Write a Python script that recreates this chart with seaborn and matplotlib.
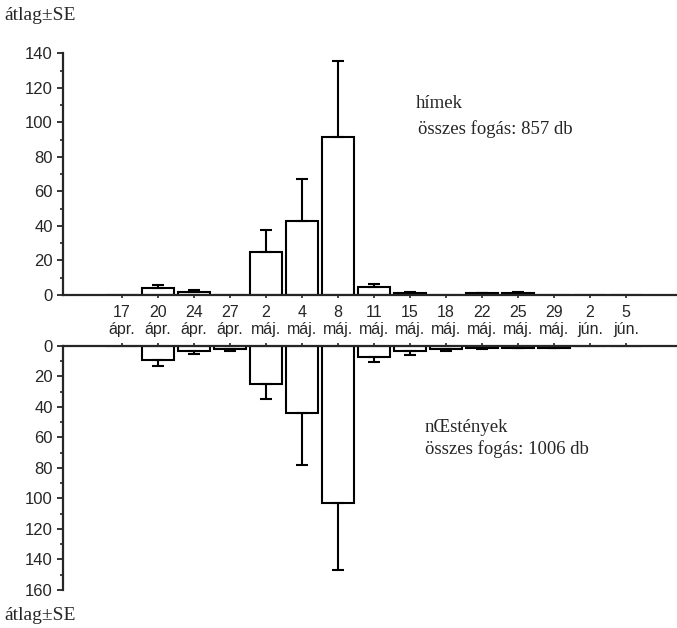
#!/usr/bin/env python3

import numpy as np
import pandas as pd
import seaborn as sns
from matplotlib import pyplot as plt
from matplotlib.ticker import MultipleLocator

dates = ["17\nápr.", "20\nápr.", "24\nápr.", "27\nápr.", "2\nmáj.", "4\nmáj.", "8\nmáj.",
         "11\nmáj.", "15\nmáj.", "18\nmáj.", "22\nmáj.", "25\nmáj.", "29\nmáj.",
         "2\njún.", "5\njún."]

# hímek (males): mean and SE
male_mean = [0, 3.9, 1.8, 0, 25.0, 42.6, 91.7, 4.8, 1.2, 0, 1.0, 1.1, 0, 0, 0]
male_se = [0, 1.9, 1.0, 0, 12.8, 24.8, 43.9, 1.7, 0.3, 0, 0.3, 0.7, 0, 0, 0]

# nőstények (females): mean and SE
female_mean = [0, 9.4, 3.5, 2.4, 25.3, 44.0, 103.0, 7.6, 3.4, 2.2, 1.3, 1.3, 1.3, 0, 0]
female_se = [0, 4.0, 1.9, 1.1, 9.6, 33.9, 43.9, 2.9, 3.0, 1.5, 0.6, 0.3, 0.3, 0, 0]

males = pd.DataFrame({"date": dates, "mean": male_mean, "se": male_se})
females = pd.DataFrame({"date": dates, "mean": female_mean, "se": female_se})

W, H = 677, 628

sns.set_style("ticks")
plt.rcParams["font.family"] = ["Liberation Sans", "DejaVu Sans"]
plt.rcParams["axes.linewidth"] = 1.6

fig = plt.figure(figsize=(W / 100, H / 100), dpi=100)
ax_top = fig.add_axes([63 / W, 1 - 295 / H, 1 - 63 / W, (295 - 53.3) / H])
ax_bot = fig.add_axes([63 / W, 1 - 590 / H, 1 - 63 / W, (590 - 345.7) / H])


def draw(ax, df):
    sns.barplot(df, x="date", y="mean", order=dates, color="white", edgecolor="black",
                linewidth=1.5, width=0.9, errorbar=None, ax=ax)
    has_err = df["se"] > 0
    xs = np.arange(len(df))[has_err]
    ax.errorbar(xs, df["mean"][has_err], yerr=[np.zeros(has_err.sum()), df["se"][has_err]],
                fmt="none", ecolor="black", elinewidth=1.5, capsize=4, capthick=1.5)
    ax.set_xlim(-1.64, 15.42)
    ax.set_xlabel("")
    ax.set_ylabel("")
    ax.yaxis.set_major_locator(MultipleLocator(20))
    ax.yaxis.set_minor_locator(MultipleLocator(10))
    ax.tick_params(axis="y", which="major", length=4.3, width=1.3, labelsize=12, pad=3)
    ax.tick_params(axis="y", which="minor", length=2.5, width=1.2)


draw(ax_top, males)
ax_top.set_ylim(0, 140)
sns.despine(ax=ax_top)
ax_top.tick_params(axis="x", length=2.5, width=1.2, labelsize=11.5, pad=4.5)
for lab in ax_top.get_xticklabels():
    lab.set_linespacing(1.15)

draw(ax_bot, females)
ax_bot.set_ylim(160, 0)
ax_bot.spines["bottom"].set_visible(False)
ax_bot.spines["right"].set_visible(False)
ax_bot.xaxis.tick_top()
ax_bot.tick_params(axis="x", length=2.5, width=1.2, labeltop=False, labelbottom=False)

serif = ["Liberation Serif", "DejaVu Serif"]
fig.text(4 / W, 1 - 15 / H, "átlag±SE", family=serif, fontsize=14, va="center")
fig.text(4 / W, 1 - 616 / H, "átlag±SE", family=serif, fontsize=14, va="center")
fig.text(416 / W, 1 - 104 / H, "hímek", family=serif, fontsize=13.5, va="center")
fig.text(418 / W, 1 - 129 / H, "összes fogás: 857 db", family=serif, fontsize=13.5, va="center")
fig.text(425 / W, 1 - 428 / H, "nŒstények", family=serif, fontsize=13.5, va="center")
fig.text(425 / W, 1 - 449 / H, "összes fogás: 1006 db", family=serif, fontsize=13.5, va="center")

plt.savefig("out.png", dpi=100)
plt.close()
